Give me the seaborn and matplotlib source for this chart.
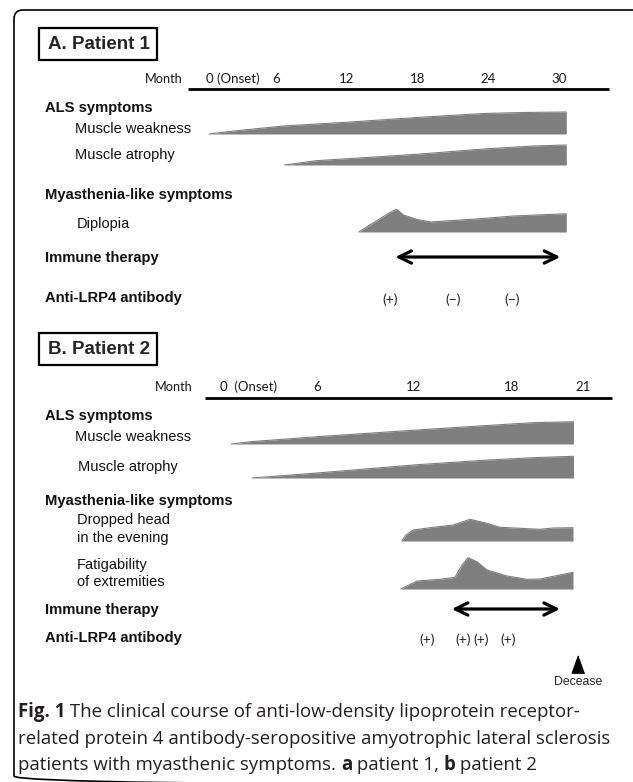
import numpy as np
import matplotlib
matplotlib.use("Agg")
import matplotlib.pyplot as plt
from matplotlib.patches import FancyBboxPatch, Rectangle
import seaborn as sns

# months since onset / band height (severity, arbitrary units)
a_ticks = [0, 6, 12, 18, 24, 30]
a_tick_labels = ["0 (Onset)", "6", "12", "18", "24", "30"]
a_weak_m = [0.3, 2.4, 6.6, 12.3, 17.9, 23.6, 27.0, 30.6]
a_weak_h = [0, 3, 8, 12, 16.5, 20.5, 21.5, 22]
a_atro_m = [6.7, 9.4, 17.9, 23.6, 27.8, 30.6]
a_atro_h = [0, 4.3, 10.7, 16, 19, 20]
a_dipl_m = [13.0, 13.9, 14.8, 15.6, 16.2, 16.8, 17.9, 19.1, 23.3, 26.1, 30.6]
a_dipl_h = [0, 6.7, 13.3, 19.3, 22.7, 17, 12.7, 10, 13.3, 16, 18.3]
a_therapy = [16.1, 30.1]
a_ab_m = [15.7, 21.0, 26.0]
a_ab_lab = ["(+)", "(\u2212)", "(\u2212)"]

b_ticks = [0, 6, 12, 18, 21]
b_tick_labels = ["0  (Onset)", "6", "12", "18", "21"]
b_weak_m = [0.7, 1.9, 6.0, 12.2, 16.3, 18.9, 20.6]
b_weak_h = [0, 2.3, 7.3, 14, 18.3, 21.3, 22.3]
b_atro_m = [2.0, 6.0, 12.2, 16.3, 18.9, 20.6]
b_atro_h = [0, 5, 13.3, 17.7, 20.3, 21.7]
b_head_m = [11.24, 11.5, 11.94, 12.99, 14.41, 15.46, 16.51, 17.32, 19.21, 19.75, 20.58]
b_head_h = [0, 6, 11, 13.3, 16, 21.7, 17.7, 13.7, 11.7, 13, 13.3]
b_fatig_m = [11.18, 12.18, 13.61, 14.53, 14.97, 15.34, 15.89, 16.51, 17.75, 18.67, 19.21, 20.58]
b_fatig_h = [0, 8, 9.7, 11.7, 24, 31.3, 27.3, 19, 13, 9.7, 10, 16.7]
b_therapy = [14.33, 20.04]
b_ab_m = [12.78, 15.01, 16.14, 17.79]
b_ab_lab = ["(+)", "(+)", "(+)", "(+)"]
b_decease = 20.8

# caption lines as (text, weight) runs
caption = [
    [("Fig. 1", "bold"), (" The clinical course of anti-low-density lipoprotein receptor-", "normal")],
    [("related protein 4 antibody-seropositive amyotrophic lateral sclerosis", "normal")],
    [("patients with myasthenic symptoms. ", "normal"), ("a", "bold"), (" patient 1, ", "normal"),
     ("b", "bold"), (" patient 2", "normal")],
]

GRAY = "#7f7f7f"
W, H = 633, 782

sns.set_theme(style="white")
plt.rcParams["font.family"] = ["Liberation Sans", "DejaVu Sans"]

fig = plt.figure(figsize=(W / 100, H / 100), dpi=100)
fig.patch.set_facecolor("white")

# layout layer in pixel coordinates
lay = fig.add_axes([0, 0, 1, 1])
lay.set_xlim(0, W)
lay.set_ylim(H, 0)
lay.axis("off")

lay.add_patch(FancyBboxPatch((14, 10), 640, 775, boxstyle="round,pad=0,rounding_size=9",
                             fill=False, ec="black", lw=1.2))


def panel_axes():
    ax = fig.add_axes([0, 0, 1, 1])
    ax.patch.set_alpha(0)
    ax.set_ylim(H, 0)
    ax.axis("off")
    return ax


# panel A: evenly spaced months
axA = panel_axes()
A_X0, A_PX = 205.5, 11.79
axA.set_xlim((0 - A_X0) / A_PX, (W - A_X0) / A_PX)

# panel B: the drawn month axis stretches after month 18
axB = panel_axes()
B_X0, B_PX, B_PX_LATE, B_KNEE = 220, 16.17, 24.0, 18


def b_fwd(m):
    m = np.asarray(m, float)
    return np.where(m <= B_KNEE, m * B_PX, B_KNEE * B_PX + (m - B_KNEE) * B_PX_LATE)


def b_inv(u):
    u = np.asarray(u, float)
    return np.where(u <= B_KNEE * B_PX, u / B_PX, B_KNEE + (u - B_KNEE * B_PX) / B_PX_LATE)


axB.set_xscale("function", functions=(b_fwd, b_inv))
axB.set_xlim(float(b_inv(0 - B_X0)), float(b_inv(W - B_X0)))
axB.set_ylim(H, 0)


def band(ax, m, h, base):
    m = np.asarray(m, float)
    top = base - np.asarray(h, float)
    ax.fill_between(m, base, top, color=GRAY, lw=0)
    sns.lineplot(x=m, y=top, ax=ax, color=GRAY, lw=0.8, sort=False,
                 estimator=None, legend=False)


def arrow(ax, span, y):
    ax.annotate("", xy=(span[1], y), xytext=(span[0], y),
                arrowprops=dict(arrowstyle="<->,head_length=0.45,head_width=0.22",
                                mutation_scale=20, lw=2.3, color="black",
                                shrinkA=0, shrinkB=0))


def timeline(ax, ticks, labels, span, y_lab, y_line, month_x):
    ax.plot(span, [y_line, y_line], color="black", lw=2.0, solid_capstyle="butt")
    for t, s in zip(ticks, labels):
        ha = "left" if t == 0 else "center"
        ax.text(t, y_lab, s, ha=ha, va="center", fontsize=9.5, family="Lato", color="#1a1a1a")
    lay.text(month_x, y_lab, "Month", ha="right", va="center", fontsize=9.2,
             family="Lato", color="#1a1a1a")


def title_box(x, y, s):
    lay.add_patch(Rectangle((x, y), 118, 32, fill=False, ec="black", lw=1.6))
    lay.text(x + 9, y + 16.5, s, ha="left", va="center", fontsize=13.5, weight="bold")


def row_label(x, y, s, bold=False):
    lay.text(x, y, s, ha="left", va="center", fontsize=10.6 if bold else 10.5,
             weight="bold" if bold else "normal", color="#111111")


# ---------------- panel A ----------------
title_box(39, 28, "A. Patient 1")
timeline(axA, a_ticks, a_tick_labels, [-1.5, 34.2], 79, 89, 183)
row_label(45, 108, "ALS symptoms", True)
row_label(75, 129, "Muscle weakness")
row_label(75, 155, "Muscle atrophy")
row_label(45, 195, "Myasthenia-like symptoms", True)
row_label(77, 224, "Diplopia")
row_label(45, 258, "Immune therapy", True)
row_label(45, 298, "Anti-LRP4 antibody", True)

band(axA, a_weak_m, a_weak_h, 134)
band(axA, a_atro_m, a_atro_h, 165)
band(axA, a_dipl_m, a_dipl_h, 232)
arrow(axA, a_therapy, 257)
for m, s in zip(a_ab_m, a_ab_lab):
    axA.text(m, 300, s, ha="center", va="center", fontsize=10, family="Lato", color="#222222")

# ---------------- panel B ----------------
title_box(39, 333, "B. Patient 2")
timeline(axB, b_ticks, b_tick_labels, [-0.9, 22.2], 387, 398, 193)
row_label(45, 416, "ALS symptoms", True)
row_label(75, 437, "Muscle weakness")
row_label(78, 467, "Muscle atrophy")
row_label(45, 501, "Myasthenia-like symptoms", True)
row_label(77, 520, "Dropped head")
row_label(77, 538, "in the evening")
row_label(77, 565, "Fatigability")
row_label(77, 582, "of extremities")
row_label(45, 610, "Immune therapy", True)
row_label(45, 638, "Anti-LRP4 antibody", True)

band(axB, b_weak_m, b_weak_h, 444)
band(axB, b_atro_m, b_atro_h, 478)
band(axB, b_head_m, b_head_h, 541)
band(axB, b_fatig_m, b_fatig_h, 589)
arrow(axB, b_therapy, 609)
for m, s in zip(b_ab_m, b_ab_lab):
    axB.text(m, 640, s, ha="center", va="center", fontsize=10, family="Lato", color="#222222")

tri = [(0, 1), (-0.72, -1), (0.72, -1)]
axB.plot([b_decease], [664], marker=tri, ms=12.5, color="black", ls="none")
axB.text(b_decease, 682, "Decease", ha="center", va="center", fontsize=8.8, color="#222222")

# ---------------- caption ----------------
renderer = fig.canvas.get_renderer()
CAP_SIZE = 13.4


def text_width(s, weight):
    # pad with x on both sides so leading/trailing spaces are counted
    t = lay.text(0, 0, "x" + s + "x", fontsize=CAP_SIZE, family="Open Sans", weight=weight)
    t2 = lay.text(0, 0, "xx", fontsize=CAP_SIZE, family="Open Sans", weight=weight)
    w = t.get_window_extent(renderer).width - t2.get_window_extent(renderer).width
    t.remove()
    t2.remove()
    return w


for i, parts in enumerate(caption):
    x = 18
    for s, weight in parts:
        lay.text(x, 712 + i * 26.5, s, ha="left", va="center", fontsize=CAP_SIZE,
                 family="Open Sans", weight=weight, color="#231f20")
        x += text_width(s, weight)

fig.savefig("out.png", dpi=100)
